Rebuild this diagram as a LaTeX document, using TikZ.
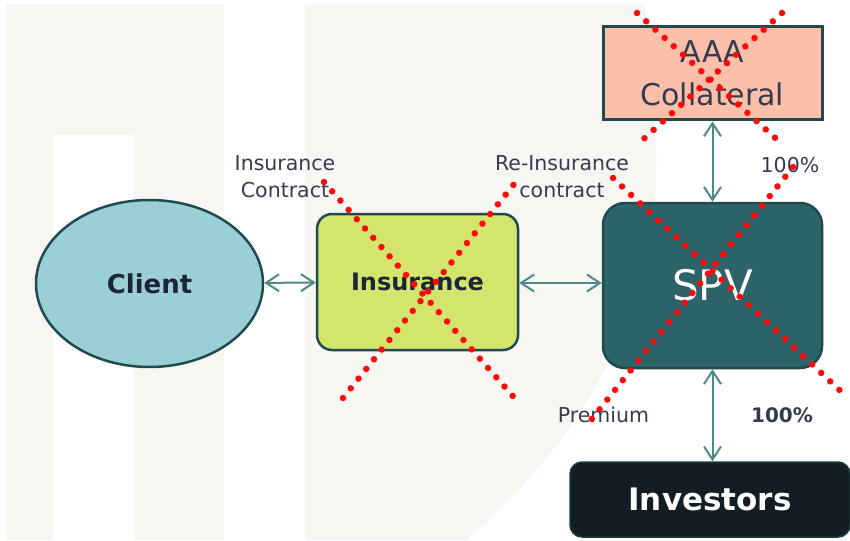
\documentclass[tikz,border=0pt]{standalone}
\usepackage{fontspec}
\setmainfont{DejaVu Sans}
\usetikzlibrary{arrows.meta,shapes.geometric}

\definecolor{paper}{HTML}{F7F6F2}
\definecolor{edgeteal}{HTML}{1F4B4F}
\definecolor{clientfill}{HTML}{9BCFD6}
\definecolor{insfill}{HTML}{D4E56D}
\definecolor{spvfill}{HTML}{2C646A}
\definecolor{collfill}{HTML}{FBBFAA}
\definecolor{invfill}{HTML}{141D24}
\definecolor{linkteal}{HTML}{4E8A8C}
\definecolor{labelink}{HTML}{363B50}
\definecolor{darkink}{HTML}{1E2536}
\definecolor{crossred}{HTML}{FF0A0A}

\tikzset{
  party/.style={draw=edgeteal, line width=2.5pt, inner sep=0pt, align=center},
  clientnode/.style={party, ellipse, fill=clientfill, text=darkink,
    minimum width=227pt, minimum height=167pt,
    font=\fontsize{26}{30}\selectfont\bfseries},
  insnode/.style={party, rectangle, rounded corners=15pt, fill=insfill, text=darkink,
    minimum width=201pt, minimum height=136pt,
    font=\fontsize{24}{28}\selectfont\bfseries},
  spvnode/.style={party, rectangle, rounded corners=22pt, fill=spvfill, text=white,
    minimum width=219pt, minimum height=165pt,
    font=\fontsize{42}{46}\selectfont},
  collnode/.style={party, rectangle, line width=3pt, fill=collfill, text=labelink,
    minimum width=219pt, minimum height=93pt,
    font=\fontsize{30}{43}\selectfont},
  invnode/.style={party, rectangle, rounded corners=12pt, line width=1.5pt,
    draw=edgeteal!80!black, fill=invfill, text=white,
    minimum width=280pt, minimum height=75pt,
    font=\fontsize{31}{36}\selectfont\bfseries},
  link/.style={draw=linkteal, line width=2pt,
    {Straight Barb[length=13pt,width=17pt]}-{Straight Barb[length=13pt,width=17pt]}},
  tag/.style={text=labelink, align=center, inner sep=0pt,
    font=\fontsize{20.5}{27}\selectfont},
  cross/.style={draw=crossred, line width=6.5pt, line cap=round,
    dash pattern=on 0pt off 12.4pt}
}

\begin{document}
\begin{tikzpicture}[x=1pt, y=-1pt]
\useasboundingbox (0,0) rectangle (850,540);

% backdrop panels
\fill[white] (0,0) rectangle (850,540);
\fill[paper] (6,4) rectangle (224,540);
\fill[white] (53,135) rectangle (134,540);
\fill[paper] (305,4) -- (645,4) -- (656,150)
  .. controls (660,330) and (560,460) .. (466,540) -- (305,540) -- cycle;

% parties
\node[clientnode] (client) at (149.5,283.5) {Client};
\node[insnode]    (ins)    at (417.5,282)   {Insurance};
\node[spvnode]    (spv)    at (712.5,285.5) {SPV};
\node[collnode]   (coll)   at (712.5,73.5)  {AAA\\Collateral};
\node[invnode]    (inv)    at (710,499.5)   {Investors};

% flows
\draw[link] (client) -- (ins);
\draw[link] (ins.east |- 0,283) -- (spv.west |- 0,283);
\draw[link] (coll.south) -- (spv.north);
\draw[link] (spv.south) -- (inv.north -| spv.south);

% flow labels
\node[tag] (lblins)  at (285,177) {Insurance\\Contract};
\node[tag] (lblre)   at (562,177) {Re-Insurance\\contract};
\node[tag] (lblcoll) at (790,165) {100\%};
\node[tag] (lblprem) at (603.5,415) {Premium};
\node[tag, font=\fontsize{20}{27}\selectfont\bfseries] (lblinv) at (782,415) {100\%};

% struck-out parties
\coordinate (iA) at (324,182);  \coordinate (iB) at (519,403);
\coordinate (iC) at (343,398);  \coordinate (iD) at (519,178);
\coordinate (cA) at (637,13);   \coordinate (cB) at (783,145);
\coordinate (cC) at (782,13);   \coordinate (cD) at (637,145);
\coordinate (sA) at (613,178);  \coordinate (sB) at (848,398);
\coordinate (sC) at (793,167);  \coordinate (sD) at (587,425);
\draw[cross] (iA) -- (iB);
\draw[cross] (iC) -- (iD);
\draw[cross] (cA) -- (cB);
\draw[cross] (cC) -- (cD);
\draw[cross] (sA) -- (sB);
\draw[cross] (sC) -- (sD);
\end{tikzpicture}
\end{document}
